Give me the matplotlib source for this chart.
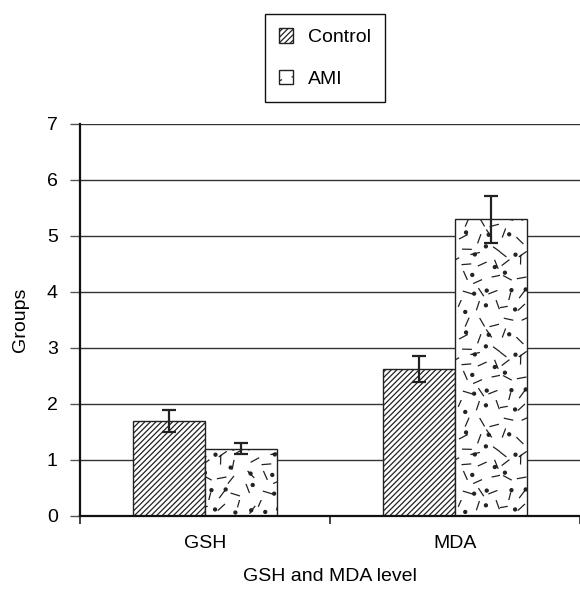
import numpy as np
import matplotlib
matplotlib.use('Agg')
import matplotlib.pyplot as plt
import matplotlib.hatch as mhatch
from matplotlib.path import Path

# ---------------- data ----------------
categories = ['GSH', 'MDA']
series_names = ['Control', 'AMI']
control_values = [1.70, 2.63]
control_errors = [0.20, 0.23]
ami_values = [1.20, 5.30]
ami_errors = [0.10, 0.42]
y_ticks = [0, 1, 2, 3, 4, 5, 6, 7]
x_label = 'GSH and MDA level'
y_label = 'Groups'

# ---------------- custom "speckle" hatch (dots + short dashes) ----------------
DOT_GRID = 5      # 5x5 jittered dots per hatch tile
DASH_GRID = 7     # 7x7 jittered dashes per hatch tile
DOT_R = 0.015
DASH_LEN = 0.085


def _hash(i, seed):
    v = np.sin(i * 12.9898 + seed * 78.233) * 43758.5453
    return v - np.floor(v)


class SpeckleHatch(mhatch.HatchPatternBase):
    def __init__(self, hatch, density):
        self.active = hatch.count('s') > 0
        circ = Path.unit_circle()
        self._cv = circ.vertices * DOT_R
        self._cc = circ.codes
        self.n_dash = DASH_GRID * DASH_GRID
        self.n_dot = DOT_GRID * DOT_GRID
        self.num_vertices = (2 * self.n_dash + self.n_dot * len(self._cv)) if self.active else 0

    def set_vertices_and_codes(self, vertices, codes):
        k = 0
        cell = 1.0 / DASH_GRID
        for i in range(self.n_dash):
            gx, gy = i % DASH_GRID, i // DASH_GRID
            cx = (gx + 0.15 + 0.7 * _hash(i + 1, 1.0)) * cell
            cy = (gy + 0.15 + 0.7 * _hash(i + 1, 2.0)) * cell
            ang = np.pi * _hash(i + 1, 3.0)
            dx = 0.5 * DASH_LEN * np.cos(ang)
            dy = 0.5 * DASH_LEN * np.sin(ang)
            vertices[k] = (cx - dx, cy - dy)
            codes[k] = Path.MOVETO
            vertices[k + 1] = (cx + dx, cy + dy)
            codes[k + 1] = Path.LINETO
            k += 2
        n = len(self._cv)
        cell = 1.0 / DOT_GRID
        for j in range(self.n_dot):
            gx, gy = j % DOT_GRID, j // DOT_GRID
            cx = (gx + 0.2 + 0.6 * _hash(j + 101, 4.0)) * cell
            cy = (gy + 0.2 + 0.6 * _hash(j + 101, 5.0)) * cell
            vertices[k:k + n] = self._cv + np.array([cx, cy])
            codes[k:k + n] = self._cc
            k += n


mhatch._hatch_types.append(SpeckleHatch)
mhatch._validate_hatch_pattern = lambda h: None

# ---------------- figure ----------------
plt.rcParams['font.family'] = ['Liberation Sans', 'DejaVu Sans']
plt.rcParams['hatch.linewidth'] = 0.9
plt.rcParams['hatch.color'] = '#1a1a1a'
FS = 14

fig = plt.figure(figsize=(5.8, 5.9), dpi=100)
ax = fig.add_axes([80 / 580, 74 / 590, 1 - 80 / 580, (516 - 124) / 590])

x = np.arange(len(categories))
w = 0.288
edge = '#222222'
ekw = dict(ecolor='#222222', elinewidth=1.6, capsize=5, capthick=1.6)

ax.bar(x - w / 2, control_values, w, yerr=control_errors, facecolor='white',
       edgecolor=edge, linewidth=1.0, hatch='//////', label=series_names[0],
       error_kw=ekw, zorder=3)
ax.bar(x + w / 2, ami_values, w, yerr=ami_errors, facecolor='white',
       edgecolor=edge, linewidth=1.0, hatch='s', label=series_names[1],
       error_kw=ekw, zorder=3)

ax.set_xlim(-0.5, len(categories) - 0.5)
ax.set_ylim(0, 7)
ax.set_yticks(y_ticks)
ax.set_yticklabels([str(t) for t in y_ticks], fontsize=FS)
ax.set_xticks(x)
ax.set_xticklabels(categories, fontsize=FS)
ax.set_xticks(np.arange(len(categories) + 1) - 0.5, minor=True)
ax.tick_params(axis='x', which='major', length=0, pad=14)
ax.tick_params(axis='x', which='minor', length=6, width=1.2, color='#222222', direction='out')
ax.tick_params(axis='y', length=7, width=1.0, color='#555555', direction='out', pad=9)

ax.yaxis.grid(True, color='#333333', linewidth=1.0)
ax.set_axisbelow(True)
for s in ['top', 'right']:
    ax.spines[s].set_visible(False)
for s in ['left', 'bottom']:
    ax.spines[s].set_linewidth(1.6)
    ax.spines[s].set_color('#111111')
    ax.spines[s].set_zorder(4)

ax.set_xlabel(x_label, fontsize=FS, labelpad=11)
ax.set_ylabel(y_label, fontsize=FS, labelpad=13)

leg = fig.legend(loc='center', bbox_to_anchor=(325 / 580, 1 - 58 / 590),
                 fontsize=FS, frameon=True, fancybox=False, framealpha=1,
                 edgecolor='#111111', handlelength=0.7, handleheight=0.75,
                 labelspacing=1.2, borderpad=0.75, handletextpad=0.75,
                 borderaxespad=0)
leg.get_frame().set_linewidth(1.0)

fig.savefig('out.png', dpi=100)
